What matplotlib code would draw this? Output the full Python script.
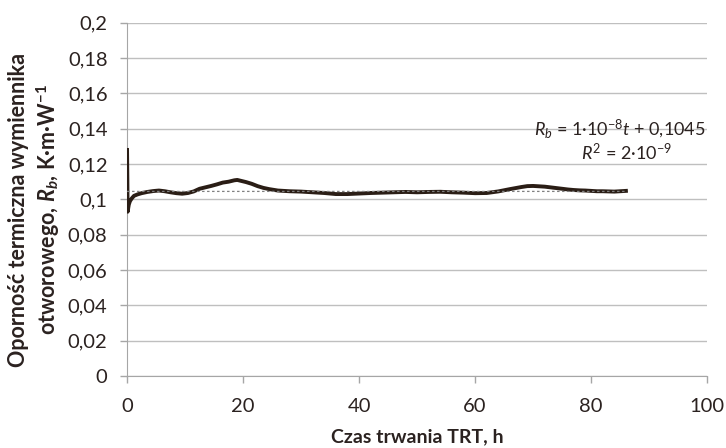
import numpy as np
import matplotlib
matplotlib.use("Agg")
import matplotlib.pyplot as plt
from matplotlib.ticker import FuncFormatter

# dane
t_h = [0, 0.05, 0.1, 0.2, 0.3, 0.5, 0.8, 1.2, 1.8, 2.5, 3.5, 4.5, 5.5, 6.5, 7.5, 8.5,
       9.5, 10.5, 11.5, 12.5, 13.5, 14.5, 15.5, 16.5, 17.5, 18.5, 19.0, 19.5, 20.5,
       21.5, 22.5, 23.5, 24.5, 26, 28, 30, 32, 34, 36, 38, 40, 42, 44, 46, 48, 50,
       52, 54, 56, 58, 60, 62, 64, 66, 67, 68, 69, 70, 71, 72, 73, 74, 75, 76, 77,
       78, 79, 80, 81, 82, 83, 84, 85, 86]
Rb = [0.128, 0.112, 0.093, 0.095, 0.097, 0.099, 0.1005, 0.102, 0.1028, 0.1035,
      0.1042, 0.1047, 0.1050, 0.1046, 0.1040, 0.1035, 0.1032, 0.1036, 0.1045,
      0.1060, 0.1068, 0.1076, 0.1085, 0.1095, 0.1100, 0.1108, 0.1110, 0.1106,
      0.1098, 0.1088, 0.1075, 0.1065, 0.1058, 0.1050, 0.1046, 0.1044, 0.1040,
      0.1036, 0.1030, 0.1030, 0.1033, 0.1036, 0.1038, 0.1040, 0.1042, 0.1040,
      0.1042, 0.1043, 0.1040, 0.1038, 0.1035, 0.1036, 0.1045, 0.1058, 0.1064,
      0.1070, 0.1075, 0.1076, 0.1074, 0.1072, 0.1068, 0.1064, 0.1060, 0.1056,
      0.1053, 0.1051, 0.1050, 0.1048, 0.1046, 0.1046, 0.1045, 0.1044, 0.1046,
      0.1048]
trend_slope = 1e-8
trend_intercept = 0.1045
trend_t = [0, 86]

plt.rcParams['font.family'] = ['Lato', 'DejaVu Sans']
plt.rcParams['mathtext.fontset'] = 'custom'
plt.rcParams['mathtext.rm'] = 'Lato'
plt.rcParams['mathtext.it'] = 'Lato:italic'
plt.rcParams['mathtext.bf'] = 'Lato:bold'
plt.rcParams['mathtext.bfit'] = 'Lato:italic:bold'

txt_col = '#2b2220'
grid_col = '#bfbfbf'

fig = plt.figure(figsize=(7.26, 4.48), dpi=100)
ax = fig.add_axes([0.175, 0.161, 0.799, 0.788])

ax.plot(t_h, Rb, color='#2a1d15', linewidth=2.8, solid_joinstyle='round', zorder=3)
trend_y = [trend_slope * x + trend_intercept for x in trend_t]
ax.plot(trend_t, trend_y, color='#7f7f7f', linestyle=(0, (2, 2)), linewidth=0.9, zorder=4)

ax.set_xlim(0, 100)
ax.set_ylim(0, 0.2)
ax.set_xticks(np.arange(0, 101, 20))
ax.set_yticks(np.arange(0, 0.201, 0.02))
ax.yaxis.set_major_formatter(FuncFormatter(
    lambda v, p: ('%g' % round(v, 2)).replace('.', ',')))
ax.yaxis.grid(True, color=grid_col, linewidth=1.0)
ax.set_axisbelow(True)
for s in ['top', 'right']:
    ax.spines[s].set_visible(False)
for s in ['left', 'bottom']:
    ax.spines[s].set_color('#a6a6a6')
ax.tick_params(axis='both', colors='#a6a6a6', labelcolor=txt_col, labelsize=14.5,
               length=5, width=1)
ax.tick_params(axis='x', pad=11)
ax.tick_params(axis='y', pad=9)

ax.set_xlabel('Czas trwania TRT, h', fontsize=14, fontweight='bold', color=txt_col)
ax.xaxis.set_label_coords(0.5, -0.147)
ax.set_ylabel('Oporność termiczna wymiennika\notworowego, $\\mathbfit{R}_\\mathbfit{b}$, K·m·W$^{\\mathbf{-1}}$',
              fontsize=15.5, fontweight='bold', color=txt_col, linespacing=1.25)
ax.yaxis.set_label_coords(-0.113, 0.47)

ax.text(0.997, 0.699, '$R_b$ = 1·10$^{-8}$$t$ + 0,1045', transform=ax.transAxes,
        ha='right', va='center', fontsize=13, color=txt_col)
ax.text(0.94, 0.634, '$R^2$ = 2·10$^{-9}$', transform=ax.transAxes,
        ha='right', va='center', fontsize=13, color=txt_col)

fig.savefig('out.png', dpi=100)
